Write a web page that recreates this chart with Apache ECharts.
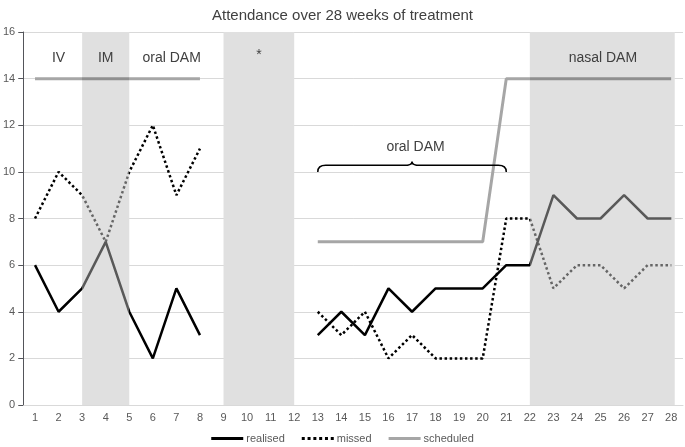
<!DOCTYPE html>
<html><head><meta charset="utf-8">
<script src="https://cdn.jsdelivr.net/npm/echarts@6/dist/echarts.min.js"></script>
<style>html,body{margin:0;padding:0;background:#fff}#c{width:685px;height:447px}</style>
</head><body><div id="c"></div>
<script>
const weeks = ['1','2','3','4','5','6','7','8','9','10','11','12','13','14','15','16','17','18','19','20','21','22','23','24','25','26','27','28'];
const realised = [6,4,5,7,4,2,5,3,null,null,null,null,3,4,3,5,4,5,5,5,6,6,9,8,8,9,8,8];
const missed = [8,10,9,7,10,12,9,11,null,null,null,null,4,3,4,2,3,2,2,2,8,8,5,6,6,5,6,6];
const scheduled = [14,14,14,14,14,14,14,14,null,null,null,null,7,7,7,7,7,7,7,7,14,14,14,14,14,14,14,14];
// shaded periods, in week numbers
const shadedPeriods = [[3,5],[9,12],[22,28.15]];
// annotation texts: [label, week position, value position]
const annoLabels = ['IV','IM','oral DAM','*','nasal DAM','oral DAM'];
const annoWeeks = [2, 4, 6.8, 10.5, 25.1, 17.15];
const annoValues = [14.9, 14.9, 14.9, 15.0, 14.9, 11.05];
// brace: [start week, end week, mid week, end value, bar value, tip value]
const brace = [13, 21, 17.0, 10.0, 10.28, 10.45];

const font = 'Liberation Sans, Arial, sans-serif';
const shadeIdx = [[2,4],[8,11],[21,27]];
function vm(seriesIndex, outC, inC){
  return {type:'piecewise', show:false, seriesIndex, dimension:0,
    pieces: shadeIdx.map(p=>({gte:p[0], lte:p[1], color:inC})),
    outOfRange:{color:outC}};
}
const solidIcon = 'path://M0,0H32V3H0Z';
const dotIcon = 'path://M0,0h3v3h-3z M5.8,0h3v3h-3z M11.6,0h3v3h-3z M17.4,0h3v3h-3z M23.2,0h3v3h-3z M29,0h3v3h-3z';
const chart = echarts.init(document.getElementById('c'), null, {renderer:'canvas'});
chart.setOption({
  animation:false,
  title:{text:'Attendance over 28 weeks of treatment', left:'center', top:3,
    textStyle:{fontFamily:font, fontSize:15, fontWeight:'normal', color:'#404040'}},
  legend:{top:433, left:'center', itemWidth:32, itemHeight:3, itemGap:17, padding:0,
    textStyle:{fontFamily:font, fontSize:11, color:'#595959', padding:[0,0,0,-2]},
    data:[{name:'realised', icon:solidIcon, itemStyle:{color:'#000'}},
          {name:'missed', icon:dotIcon, itemStyle:{color:'#000'}},
          {name:'scheduled', icon:solidIcon, itemStyle:{color:'#a6a6a6'}}]},
  grid:{left:22, right:2, top:32, bottom:42},
  xAxis:[{type:'category', data:weeks, boundaryGap:true,
    axisLine:{lineStyle:{color:'#d9d9d9'}}, axisTick:{show:false},
    axisLabel:{fontFamily:font, fontSize:11, color:'#595959', margin:7, interval:0}},
   {type:'value', min:0.5, max:28.5, show:false}],
  yAxis:{type:'value', min:0, max:16, interval:2,
    axisLabel:{fontFamily:font, fontSize:11, color:'#595959', margin:8},
    splitLine:{lineStyle:{color:'#d9d9d9'}}},
  visualMap:[vm(0,'#000000','#595959'), vm(1,'#000000','#666666'), vm(2,'#a6a6a6','#8f8f8f')],
  series:[
    {name:'realised', type:'line', data:realised, showSymbol:false, symbol:'none', z:5, color:'#000',
      lineStyle:{width:2.5}},
    {name:'missed', type:'line', data:missed, showSymbol:false, symbol:'none', z:4, color:'#000',
      lineStyle:{width:2.5, type:[2.5,2.6]}},
    {name:'scheduled', type:'line', data:scheduled, showSymbol:false, symbol:'none', z:3, color:'#a6a6a6',
      lineStyle:{width:3}},
    {name:'shade', type:'custom', xAxisIndex:1, z:1, silent:true,
      data:[], renderItem:()=>null,
      markArea:{silent:true, itemStyle:{color:'#e0e0e0'},
        data: shadedPeriods.map(p=>[{xAxis:p[0], yAxis:0},{xAxis:p[1], yAxis:16}])}},
    {name:'brace', type:'custom', xAxisIndex:1, z:6, silent:true,
      data:[brace],
      renderItem:(params, api)=>{
        const a = api.coord([api.value(0), api.value(3)]);
        const b = api.coord([api.value(1), api.value(4)]);
        const m = api.coord([api.value(2), api.value(5)]);
        const x0=a[0], x1=b[0], xm=m[0], y0=a[1], yh=b[1], yt=m[1];
        const r=8;
        const d = `M${x0} ${y0} Q${x0} ${yh} ${x0+r} ${yh} L${xm-r} ${yh} Q${xm} ${yh} ${xm} ${yt} Q${xm} ${yh} ${xm+r} ${yh} L${x1-r} ${yh} Q${x1} ${yh} ${x1} ${y0}`;
        return {type:'path', shape:{pathData:d}, style:{fill:null, stroke:'#000', lineWidth:1.5}};
      }},
    {name:'annotations', type:'custom', xAxisIndex:1, z:7, silent:true,
      data: annoLabels.map((t,i)=>[annoWeeks[i], annoValues[i], i]),
      renderItem:(params, api)=>{
        const p = api.coord([api.value(0), api.value(1)]);
        return {type:'text', x:p[0], y:p[1], style:{text:annoLabels[api.value(2)],
          align:'center', verticalAlign:'middle', fontFamily:font, fontSize:14, fill:'#404040'}};
      }}
  ]
});
</script></body></html>
